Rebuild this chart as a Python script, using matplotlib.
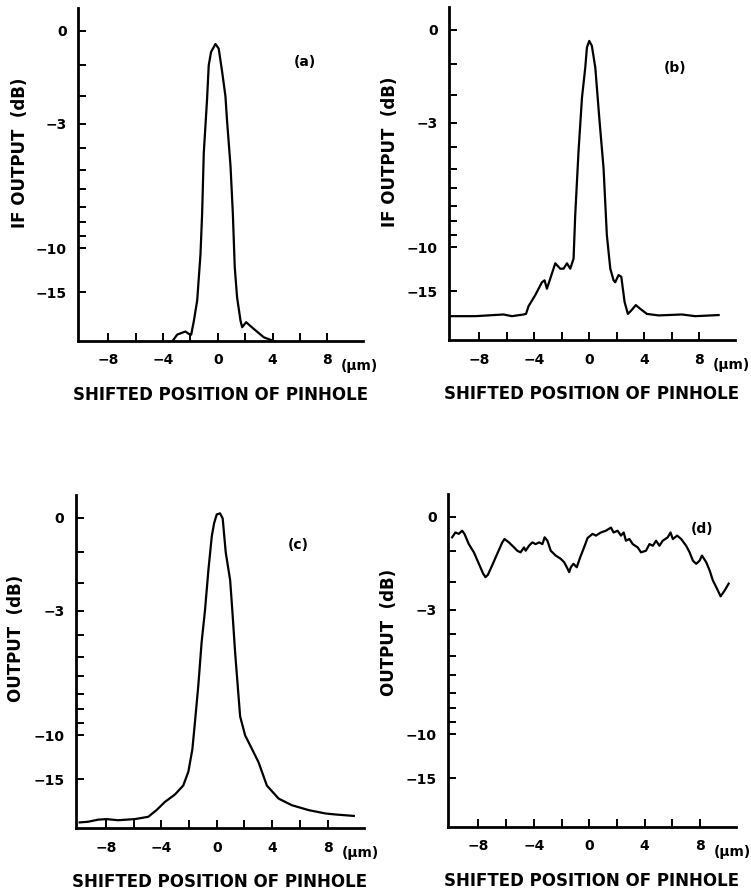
import numpy as np
import matplotlib
matplotlib.use('Agg')
import matplotlib.pyplot as plt
from matplotlib.ticker import NullFormatter

plt.rcParams['font.family'] = ['DejaVu Sans']

# traced curves: x in um, y in dB
a_x = [-3.3, -2.96, -2.36, -2.11, -1.94, -1.74, -1.5, -1.26, -1.14, -1.02,
       -0.78, -0.66, -0.49, -0.17, 0.07, 0.32, 0.56, 0.68, 0.93, 1.1,
       1.24, 1.41, 1.66, 1.78, 2.07, 2.63, 3.36, 3.85, 4.1]
a_db = [-32, -26.9, -25.2, -26.5, -27.0, -21.0, -16.3, -10.5, -7.4, -4.2,
        -2.1, -1.0, -0.6, -0.37, -0.5, -1.2, -2.0, -2.9, -4.8, -7.4,
        -11.8, -15.8, -21.0, -23.3, -21.5, -24.0, -28.7, -30.8, -32]

b_x = [-10.04, -8.29, -6.23, -5.62, -4.78, -4.6, -4.41, -3.93, -3.44, -3.25,
       -3.08, -2.84, -2.47, -2.11, -1.87, -1.62, -1.38, -1.14, -1.02, -0.78,
       -0.53, -0.29, -0.17, 0.0, 0.19, 0.44, 0.73, 1.04, 1.28, 1.53,
       1.77, 1.89, 2.13, 2.33, 2.57, 2.81, 3.05, 3.39, 3.71, 4.19,
       5.04, 6.74, 7.71, 9.41]
b_db = [-20.0, -20.0, -19.55, -20.0, -19.55, -19.4, -17.6, -15.6, -13.7, -13.45,
        -14.6, -13.25, -11.5, -12.07, -12.07, -11.5, -12.07, -11.03, -7.58, -4.18,
        -2.09, -1.1, -0.5, -0.31, -0.45, -1.1, -2.82, -4.96, -9.0, -12.07,
        -13.45, -13.7, -12.8, -13.0, -16.8, -19.4, -18.6, -17.4, -18.2, -19.4,
        -19.8, -19.55, -20.0, -19.7]

c_x = [-9.9, -9.3, -8.57, -7.97, -7.13, -5.92, -4.95, -4.35, -3.74, -3.02,
       -2.42, -2.05, -1.76, -1.57, -1.33, -1.09, -0.85, -0.6, -0.36, -0.19,
       0.0, 0.24, 0.43, 0.65, 0.97, 1.14, 1.33, 1.57, 1.69, 2.05,
       2.54, 3.02, 3.62, 4.47, 5.43, 6.64, 7.85, 8.57, 9.9]
c_db = [-27.4, -27.0, -25.8, -25.5, -26.1, -25.5, -24.4, -21.8, -19.4, -17.7,
        -16.0, -13.9, -11.3, -8.9, -6.5, -4.3, -3.0, -1.55, -0.53, -0.15,
        0.09, 0.12, -0.02, -1.0, -1.9, -3.1, -4.8, -7.1, -8.5, -10.0,
        -11.25, -12.7, -16.0, -18.6, -20.3, -21.8, -23.0, -23.4, -24.0]

d_x = [-9.9, -9.67, -9.42, -9.18, -9.01, -8.7, -8.33, -7.97, -7.66, -7.49,
       -7.32, -7.01, -6.65, -6.28, -6.12, -5.8, -5.43, -5.2, -4.96, -4.71,
       -4.59, -4.35, -4.11, -3.87, -3.62, -3.38, -3.22, -3.02, -2.78, -2.42,
       -2.06, -1.81, -1.62, -1.45, -1.33, -1.14, -0.9, -0.65, -0.41, -0.12,
       0.24, 0.48, 0.84, 1.2, 1.57, 1.76, 2.05, 2.29, 2.49, 2.65,
       2.9, 3.14, 3.5, 3.74, 4.1, 4.35, 4.59, 4.83, 5.07, 5.31,
       5.67, 5.87, 6.04, 6.35, 6.64, 7.0, 7.25, 7.49, 7.72, 7.97,
       8.14, 8.45, 8.7, 8.93, 9.17, 9.49, 9.78, 10.07]
d_db = [-0.58, -0.44, -0.48, -0.39, -0.48, -0.78, -1.03, -1.39, -1.71, -1.83,
        -1.75, -1.44, -1.08, -0.73, -0.63, -0.73, -0.88, -0.98, -1.03, -0.88,
        -0.98, -0.83, -0.73, -0.78, -0.73, -0.78, -0.58, -0.68, -0.98, -1.13,
        -1.23, -1.34, -1.5, -1.66, -1.5, -1.39, -1.5, -1.18, -0.92, -0.6,
        -0.48, -0.53, -0.44, -0.39, -0.3, -0.44, -0.39, -0.53, -0.44, -0.68,
        -0.63, -0.78, -0.88, -1.03, -0.98, -0.78, -0.83, -0.68, -0.83, -0.68,
        -0.58, -0.44, -0.63, -0.53, -0.63, -0.83, -1.03, -1.29, -1.39, -1.29,
        -1.13, -1.34, -1.61, -1.94, -2.17, -2.5, -2.29, -2.05]

x_ticks = [-8, -4, 0, 4, 8]
x_minor = [-6, -2, 2, 6]
y_ticks = [0, -3, -10, -15]
y_minor = [-1, -2, -4, -5, -6, -7, -8, -9]

panels = [
    ('(a)', a_x, a_db, 'IF OUTPUT  (dB)', [78/751, 1-341/890, 285/751, 333/890], (0.796, 0.838), 0.565),
    ('(b)', b_x, b_db, 'IF OUTPUT  (dB)', [449/751, 1-340/890, 286/751, 333/890], (0.79, 0.817), 0.565),
    ('(c)', c_x, c_db, 'OUTPUT  (dB)', [75.5/751, 1-828/890, 288/751, 333/890], (0.773, 0.85), 0.57),
    ('(d)', d_x, d_db, 'OUTPUT  (dB)', [448/751, 1-827/890, 288/751, 333/890], (0.882, 0.895), 0.585),
]


# the vertical scale is linear in amplitude, labelled in dB
def db_to_amp(v):
    return 10 ** (np.asarray(v, dtype=float) / 20.0)


def amp_to_db(v):
    return 20 * np.log10(np.clip(np.asarray(v, dtype=float), 1e-6, None))


fig = plt.figure(figsize=(7.51, 8.90), dpi=100)

for tag, xs, ys, ylab, pos, tag_pos, ylab_y in panels:
    ax = fig.add_axes(pos)
    ax.set_yscale('function', functions=(db_to_amp, amp_to_db))
    ax.plot(xs, ys, color='black', lw=1.6, solid_joinstyle='round')
    ax.set_xlim(-10.2, 10.6)
    ax.set_ylim(-32, 0.6)

    for s in ['top', 'right']:
        ax.spines[s].set_visible(False)
    for s in ['left', 'bottom']:
        ax.spines[s].set_linewidth(2.0)

    ax.set_xticks(x_ticks)
    ax.set_xticks(x_minor, minor=True)
    ax.set_xticklabels([str(v).replace('-', '\u2212') for v in x_ticks])
    ax.set_yticks(y_ticks)
    ax.set_yticks(y_minor, minor=True)
    ax.set_yticklabels([str(v).replace('-', '\u2212') for v in y_ticks])
    ax.yaxis.set_minor_formatter(NullFormatter())
    ax.xaxis.set_minor_formatter(NullFormatter())
    ax.tick_params(which='both', direction='in', length=6, width=1.4)
    ax.tick_params(axis='x', which='major', pad=9, labelsize=10)
    ax.tick_params(axis='y', which='major', pad=8, labelsize=10)
    for lab in ax.get_xticklabels() + ax.get_yticklabels():
        lab.set_fontweight('bold')

    ax.text(0.5, -0.162, 'SHIFTED POSITION OF PINHOLE', transform=ax.transAxes,
            ha='center', va='center', fontsize=12, fontweight='bold')
    ax.text(-0.205, ylab_y, ylab, transform=ax.transAxes, rotation=90,
            ha='center', va='center', fontsize=12, fontweight='bold')
    ax.text(tag_pos[0], tag_pos[1], tag, transform=ax.transAxes,
            ha='center', va='center', fontsize=10, fontweight='bold')
    ax.annotate('(\u03bcm)', xy=(9.0, -0.075), xycoords=('data', 'axes fraction'),
                ha='left', va='center', fontsize=10, fontweight='bold',
                annotation_clip=False)

fig.savefig('out.png', dpi=100)
